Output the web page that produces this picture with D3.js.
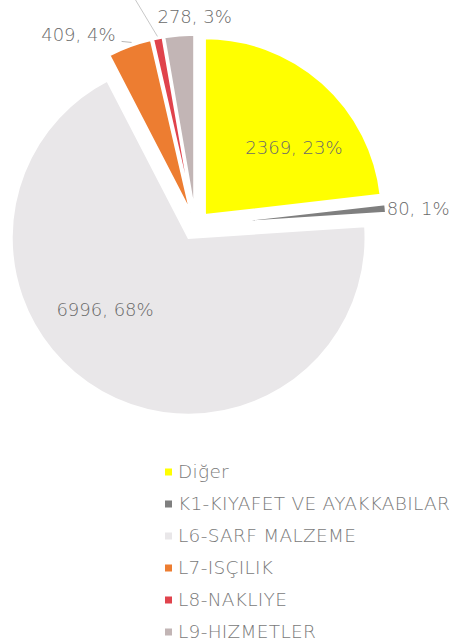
<!DOCTYPE html>
<html>
<head>
<meta charset="utf-8">
<script src="https://cdn.jsdelivr.net/npm/d3@7"></script>
<style>
  body { margin: 0; background: #fff; }
  svg text { font-family: "DejaVu Sans", sans-serif; font-weight: 300; fill: #6a6a6a; }
</style>
</head>
<body>
<div id="pie"></div>
<script>
// data (L8 label is cut off at the top)
var categories = ["Diğer", "K1-KIYAFET VE AYAKKABILAR", "L6-SARF MALZEME", "L7-ISÇILIK", "L8-NAKLIYE", "L9-HIZMETLER"];
var values = [2369, 80, 6996, 409, 90, 278];
var percentLabels = ["23%", "1%", "68%", "4%", "1%", "3%"];
var colors = ["#ffff00", "#7f7f7f", "#e9e7e9", "#ed7d31", "#e0434c", "#c2b5b5"];

function makePie() {
    var width = 457, height = 644,
        cx = 195.5, cy = 225.6,
        radius = 177,
        explode = 14;

    var svg = d3.select("#pie").append("svg")
        .attr("width", width)
        .attr("height", height);

    var data = categories.map(function(c, i) {
        return {name: c, value: values[i], pct: percentLabels[i], color: colors[i]};
    });

    var pie = d3.pie().sort(null).value(function(d) { return d.value; });
    var arc = d3.arc().innerRadius(0).outerRadius(radius);
    var arcs = pie(data);

    function dir(a) { return [Math.sin(a), -Math.cos(a)]; }
    function mid(d) { return (d.startAngle + d.endAngle) / 2; }
    function apex(d) {
        var v = dir(mid(d));
        return [cx + explode * v[0], cy + explode * v[1]];
    }
    function at(d, r, da) {
        var p = apex(d), v = dir(mid(d) + (da || 0) * Math.PI / 180);
        return [p[0] + r * v[0], p[1] + r * v[1]];
    }

    svg.selectAll(".slice")
        .data(arcs)
        .enter().append("path")
        .attr("class", "slice")
        .attr("transform", function(d) { return "translate(" + apex(d) + ")"; })
        .attr("d", arc)
        .style("fill", function(d) { return d.data.color; })
        .style("stroke", "#fff")
        .style("stroke-width", 2.2);

    function txt(d) { return d.data.value + ", " + d.data.pct; }
    var labelSize = "18px";

    // inside labels
    var p0 = at(arcs[0], 112, 11);
    svg.append("text").attr("x", p0[0]).attr("y", p0[1]).attr("dy", "0.35em")
        .attr("text-anchor", "middle").style("font-size", labelSize).text(txt(arcs[0]));
    var p2 = at(arcs[2], 110, 20);
    svg.append("text").attr("x", p2[0]).attr("y", p2[1]).attr("dy", "0.35em")
        .attr("text-anchor", "middle").style("font-size", labelSize).text(txt(arcs[2]));

    // K1 label just past the tip
    var p1 = at(arcs[1], radius + 1, 0);
    svg.append("text").attr("x", p1[0]).attr("y", p1[1]).attr("dy", "0.35em")
        .attr("text-anchor", "start").style("font-size", labelSize).text(txt(arcs[1]));

    // L7 label with short leader
    var p3 = at(arcs[3], radius + 3, 1);
    svg.append("line").attr("x1", p3[0]).attr("y1", p3[1]).attr("x2", p3[0] - 10).attr("y2", p3[1] - 1)
        .style("stroke", "#b8b8b8").style("stroke-width", 1);
    svg.append("text").attr("x", p3[0] - 16).attr("y", p3[1] - 8).attr("dy", "0.35em")
        .attr("text-anchor", "end").style("font-size", labelSize).text(txt(arcs[3]));

    // L8 leader runs off the top, its label is not in the picture
    var p4 = at(arcs[4], radius + 2, 0), lead = dir(-31 * Math.PI / 180);
    svg.append("line").attr("x1", p4[0]).attr("y1", p4[1])
        .attr("x2", p4[0] + 60 * lead[0]).attr("y2", p4[1] + 60 * lead[1])
        .style("stroke", "#c8c8c8").style("stroke-width", 1);

    // L9 label above
    var p5 = at(arcs[5], radius + 18, 5);
    svg.append("text").attr("x", p5[0]).attr("y", p5[1]).attr("dy", "0.35em")
        .attr("text-anchor", "middle").style("font-size", labelSize).text(txt(arcs[5]));

    // legend
    var legend = svg.selectAll(".legend")
        .data(data)
        .enter().append("g")
        .attr("class", "legend")
        .attr("transform", function(d, i) { return "translate(165," + (472 + i * 32) + ")"; });
    legend.append("rect")
        .attr("x", 0).attr("y", -3.5).attr("width", 7).attr("height", 7)
        .style("fill", function(d) { return d.color; });
    legend.append("text")
        .attr("x", 13).attr("dy", "0.35em")
        .style("font-size", "18.5px")
        .style("letter-spacing", "0.3px")
        .style("fill", "#7a7a7a")
        .text(function(d) { return d.name; });
}
makePie();
</script>
</body>
</html>
